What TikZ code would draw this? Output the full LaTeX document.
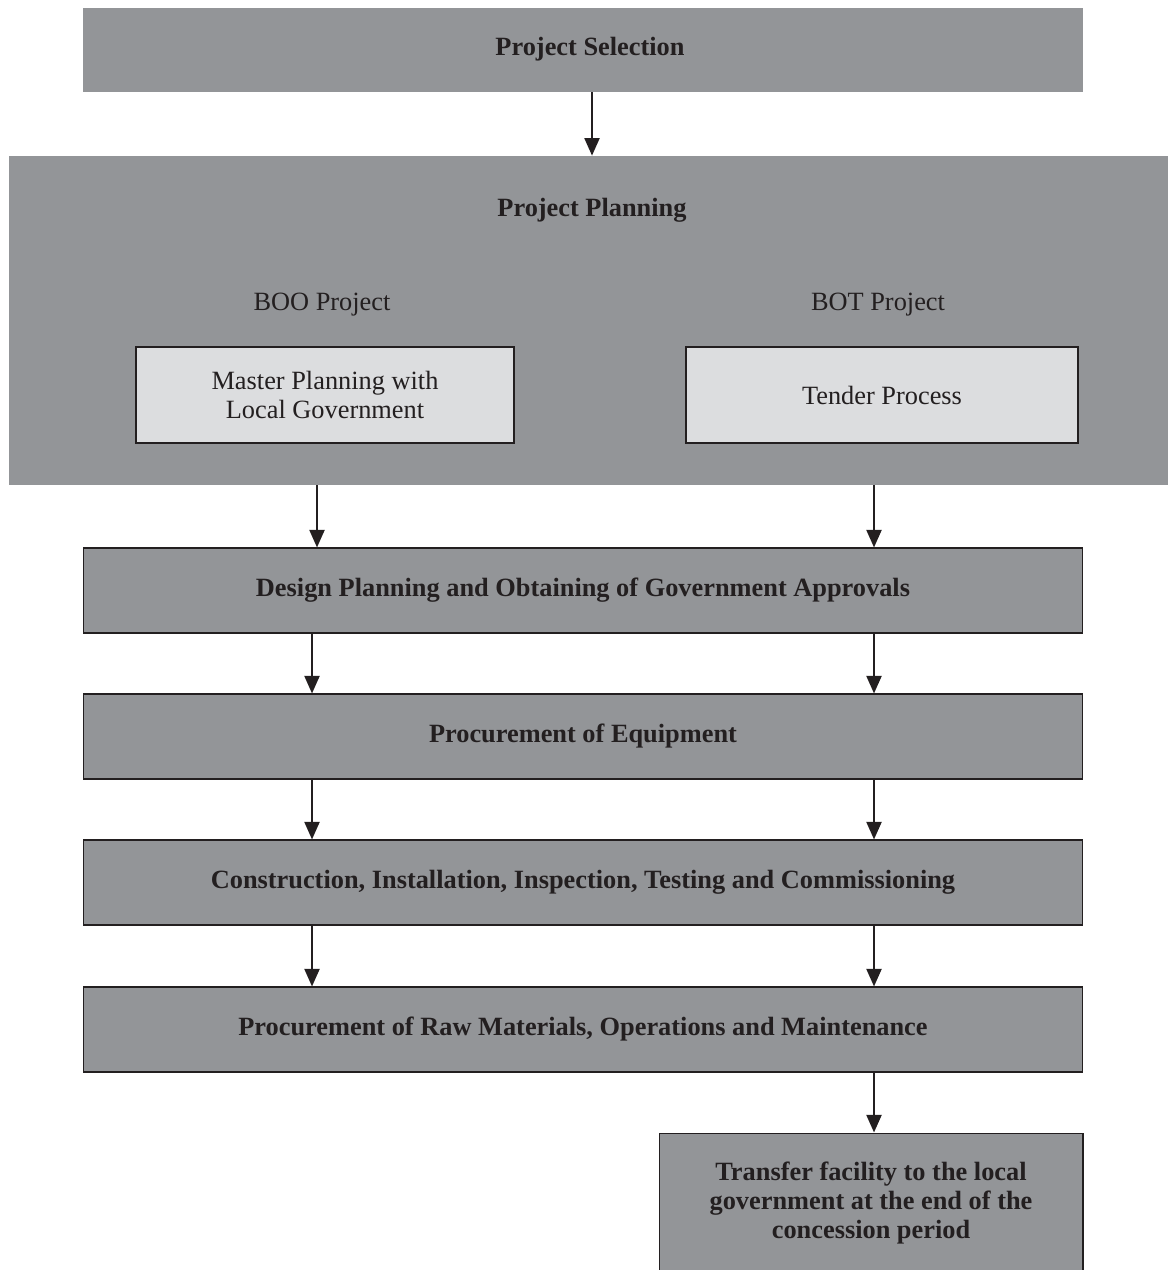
\documentclass[tikz,border=0pt]{standalone}
\usepackage{fontspec}
\setmainfont{Liberation Serif}
\usetikzlibrary{arrows.meta}
\definecolor{boxgray}{RGB}{147,149,152}
\definecolor{lightbox}{RGB}{220,221,223}
\definecolor{ink}{RGB}{35,31,32}
\begin{document}
\begin{tikzpicture}
      [x=0.02cm,y=-0.02cm,
       every node/.style={font=\fontsize{15}{16.5}\selectfont, text=ink, inner sep=0pt},
       phase/.style={fill=boxgray, draw=ink, line width=0.6pt, minimum width=20cm, minimum height=1.7cm,
         align=center, font=\fontsize{15}{16.5}\selectfont\bfseries},
       sub/.style={fill=lightbox, draw=ink, line width=0.8pt, minimum height=1.92cm, align=center},
       arr/.style={draw=ink, line width=1.3pt, -{Triangle[width=8.5pt,length=10pt]}}]
        \path[use as bounding box, clip] (0,0) rectangle (1168,1270);

        \node[fill=boxgray, minimum width=20cm, minimum height=1.68cm] (sel) at (583,50) {};
        \node[font=\fontsize{15}{16.5}\selectfont\bfseries] (seltitle) at (590,49) {Project Selection};

        \node[fill=boxgray, minimum width=23.18cm, minimum height=6.58cm] (plan) at (588.5,320.5) {};
        \node[font=\fontsize{15}{16.5}\selectfont\bfseries] (plantitle) at (592,210) {Project Planning};

        \node (boo) at (322,305) {BOO Project};
        \node (bot) at (878,305) {BOT Project};

        \node[sub, minimum width=7.56cm] (master) at (325,395) {Master Planning with\\Local Government};
        \node[sub, minimum width=7.84cm] (tender) at (882,395) {Tender Process};

        \node[phase] (design) at (583,590.5) {Design Planning and Obtaining of Government Approvals};
        \node[phase] (equip) at (583,736.5) {Procurement of Equipment};
        \node[phase] (build) at (583,882.5) {Construction, Installation, Inspection, Testing and Commissioning};
        \node[phase] (operate) at (583,1029.5) {Procurement of Raw Materials, Operations and Maintenance};

        \node[phase, minimum width=8.48cm, minimum height=2.8cm] (transfer) at (871,1203)
          {Transfer facility to the local\\government at the end of the\\concession period};

        % arrow columns
        \coordinate (mid) at (592,0);
        \coordinate (boocol) at (317,0);
        \coordinate (lcol) at (312,0);
        \coordinate (rcol) at (874,0);

        \draw[arr] (sel.south -| mid) -- (plan.north -| mid);
        \draw[arr] (plan.south -| boocol) -- (design.north -| boocol);
        \draw[arr] (plan.south -| rcol) -- (design.north -| rcol);

        \foreach \from/\to in {design/equip, equip/build, build/operate}
          {
          \draw[arr] (\from.south -| lcol) -- (\to.north -| lcol);
          \draw[arr] (\from.south -| rcol) -- (\to.north -| rcol);
          }

        \draw[arr] (operate.south -| rcol) -- (transfer.north -| rcol);
      \end{tikzpicture}
\end{document}
